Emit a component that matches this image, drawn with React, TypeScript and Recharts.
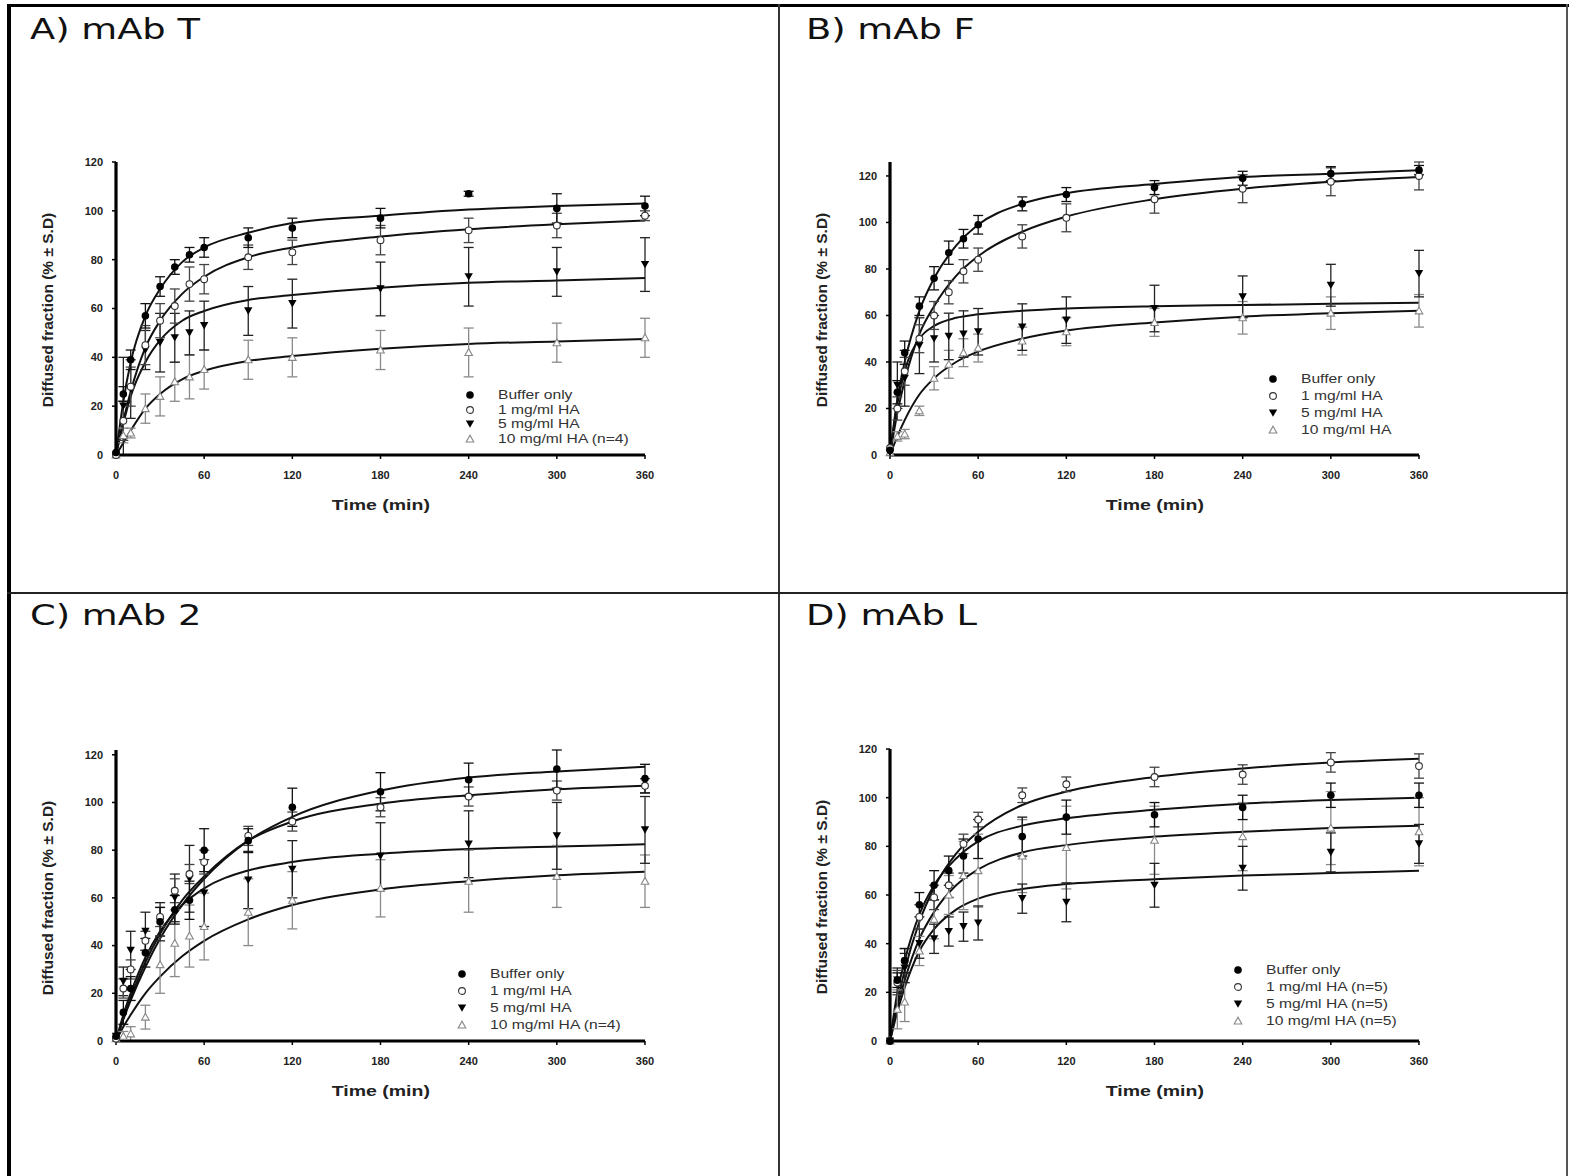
import React from 'react';
import { ComposedChart, Line, Scatter, XAxis, YAxis, ErrorBar } from 'recharts';

// Sampling times (min) of the measured points and of the fitted curves
const TIMES = [0, 5, 10, 20, 30, 40, 50, 60, 90, 120, 180, 240, 300, 360];
const FIT_TIMES = [0, 5, 10, 20, 30, 45, 60, 90, 120, 180, 240, 300, 360];
const X_TICKS = [0, 60, 120, 180, 240, 300, 360];
const Y_TICKS = [0, 20, 40, 60, 80, 100, 120];

// ---------- Panel A: mAb T ----------
const A_BUF = [1, 25, 39, 57, 69, 77, 82, 85, 89, 93, 97, 107, 101, 102];
const A_BUF_SD = [0, 3, 4, 5, 4, 3, 3, 4, 4, 4, 4, 1, 6, 4];
const A_HA1 = [0, 14, 28, 45, 55, 61, 70, 72, 81, 83, 88, 92, 94, 98];
const A_HA1_SD = [0, 8, 8, 8, 7, 7, 7, 6, 5, 5, 6, 5, 5, 2];
const A_HA5 = [0, 20, 27, 43, 46, 48, 50, 53, 59, 62, 68, 73, 75, 78];
const A_HA5_SD = [0, 20, 12, 8, 12, 10, 9, 10, 10, 10, 11, 12, 10, 11];
const A_HA10 = [0, 8, 9, 19, 24, 30, 32, 35, 39, 40, 43, 42, 46, 48];
const A_HA10_SD = [0, 3, 2, 6, 8, 8, 9, 8, 8, 8, 8, 10, 8, 8];
const A_BUF_FIT = [0, 22, 38, 57, 68, 79, 85, 91, 95, 98, 100.5, 102, 103];
const A_HA1_FIT = [0, 14, 26, 44, 55, 66, 73, 81, 85, 89.5, 92.5, 94.5, 96];
const A_HA5_FIT = [0, 13, 24, 38, 47, 55, 59, 63.5, 65.5, 68.5, 70.5, 71.5, 72.5];
const A_HA10_FIT = [0, 5, 10, 19, 25, 31, 34.5, 38.5, 40.5, 43.5, 45.5, 46.5, 47.5];
const A_LEGEND = ['Buffer only', '1 mg/ml HA', '5 mg/ml HA', '10 mg/ml HA (n=4)'];

// ---------- Panel B: mAb F ----------
const B_BUF = [2, 27, 44, 64, 76, 87, 93, 99, 108, 112, 115, 119, 121, 122.5];
const B_BUF_SD = [0, 5, 5, 4, 5, 5, 4, 4, 3, 3, 3, 3, 3, 2];
const B_HA1 = [3, 20, 36, 50, 60, 70, 79, 84, 94, 102, 110, 114.5, 117.5, 120];
const B_HA1_SD = [0, 5, 6, 6, 6, 5, 5, 5, 5, 6, 6, 6, 6, 6];
const B_HA5 = [1, 30, 33, 47, 50, 51, 52, 53, 55, 58, 63, 68, 73, 78];
const B_HA5_SD = [0, 10, 12, 12, 10, 10, 10, 10, 10, 10, 10, 9, 9, 10];
const B_HA10 = [1, 8, 9, 19, 33, 39, 44, 46, 49, 53, 57, 59, 61, 62];
const B_HA10_SD = [0, 2, 2, 2, 5, 6, 6, 6, 6, 6, 6, 7, 7, 7];
const B_BUF_FIT = [0, 24, 40, 62, 76, 90, 99, 108, 112.5, 116.5, 119.5, 121, 122.5];
const B_HA1_FIT = [0, 18, 32, 52, 64, 77, 85.5, 96, 102.5, 110, 114.5, 117.5, 119.5];
const B_HA5_FIT = [0, 22, 36, 50, 55.5, 59, 60.5, 62, 63, 64, 64.5, 65, 65.5];
const B_HA10_FIT = [0, 8, 15, 26, 33, 40, 44.5, 50, 53.5, 57, 59.5, 61, 62];
const B_LEGEND = ['Buffer only', '1 mg/ml HA', '5 mg/ml HA', '10 mg/ml HA'];

// ---------- Panel C: mAb 2 ----------
const C_BUF = [2, 12, 22, 37, 50, 55, 59, 80, 84, 98, 104.5, 109.5, 114, 110];
const C_BUF_SD = [0, 5, 5, 6, 6, 6, 8, 9, 5, 8, 8, 7, 8, 6];
const C_HA1 = [1, 22, 30, 42, 52, 63, 70, 75, 86, 92, 98, 102.5, 105, 107];
const C_HA1_SD = [0, 4, 4, 4, 4, 5, 4, 5, 4, 4, 4, 4, 4, 3];
const C_HA5 = [2, 25, 38, 46, 50, 60, 68, 62, 67.5, 72, 77.5, 82.5, 86, 88.5];
const C_HA5_SD = [0, 6, 8, 8, 8, 10, 14, 14, 12, 12, 14, 14, 14, 14];
const C_HA10 = [1, 2, 3, 10, 32, 41, 44, 48, 54, 59, 64, 67, 69, 67];
const C_HA10_SD = [0, 2, 3, 5, 12, 14, 13, 14, 14, 12, 12, 13, 13, 11];
const C_BUF_FIT = [0, 9, 17, 31, 43, 57, 68, 84, 94, 105, 110.5, 113, 115];
const C_HA1_FIT = [0, 9.5, 18, 33, 45, 59, 69, 84, 92, 99.5, 103, 105.5, 107];
const C_HA5_FIT = [0, 11, 20, 35, 46, 57, 64, 71.5, 75, 78.5, 80.5, 81.5, 82.5];
const C_HA10_FIT = [0, 6, 11, 20, 27, 35.5, 42, 51, 57, 63.5, 67, 69.5, 71];
const C_LEGEND = ['Buffer only', '1 mg/ml HA', '5 mg/ml HA', '10 mg/ml HA (n=4)'];

// ---------- Panel D: mAb L ----------
const D_BUF = [0, 25, 33, 56, 64, 70, 76, 83, 84, 92, 93, 96, 101, 101];
const D_BUF_SD = [0, 3, 5, 5, 6, 6, 7, 8, 8, 7, 5, 5, 5, 5];
const D_HA1 = [0, 24, 33, 51, 59, 64, 81, 91, 101, 105.5, 108.5, 109.5, 114.5, 113];
const D_HA1_SD = [0, 5, 5, 5, 5, 5, 4, 3, 3, 3, 4, 4, 4, 5];
const D_HA5 = [0, 25, 30, 40, 42, 45, 47, 48.5, 58.5, 57, 64, 71, 77.5, 81];
const D_HA5_SD = [0, 5, 6, 6, 6, 6, 6, 7, 6, 8, 9, 9, 8, 8];
const D_HA10 = [0, 13, 16, 37, 50, 60, 68, 70, 76, 79.5, 82.5, 84, 87.5, 86];
const D_HA10_SD = [0, 8, 8, 6, 8, 8, 14, 15, 15, 17, 14, 14, 15, 14];
const D_BUF_FIT = [0, 20, 33, 52, 64, 75, 82, 88.5, 91.5, 95, 97.5, 99, 100];
const D_HA1_FIT = [0, 16, 29, 49, 63, 77, 86, 97, 102.5, 108.5, 112, 114.5, 116];
const D_HA5_FIT = [0, 12, 22, 37, 46, 54, 58.5, 62.5, 64.5, 66.5, 68, 69, 70];
const D_HA10_FIT = [0, 14, 25, 42, 53, 64, 70.5, 77.5, 80.5, 84, 86, 87.5, 88.5];
const D_LEGEND = ['Buffer only', '1 mg/ml HA (n=5)', '5 mg/ml HA (n=5)', '10 mg/ml HA (n=5)'];

type Kind = 'buf' | 'ha1' | 'ha5' | 'ha10';
const KINDS: Kind[] = ['buf', 'ha1', 'ha5', 'ha10'];
const BAR_COLORS: Record<Kind, string> = { buf: '#111', ha1: '#444', ha5: '#222', ha10: '#8a8a8a' };

const pts = (v: number[], sd: number[]) => TIMES.map((t, i) => ({ t, y: v[i], sd: sd[i] }));
const fit = (v: number[]) => FIT_TIMES.map((t, i) => ({ t, y: v[i] }));

function MarkerShape(kind: Kind, cx: number, cy: number) {
  if (cx == null || cy == null || isNaN(cx) || isNaN(cy)) return <g />;
  switch (kind) {
    case 'buf':
      return <circle cx={cx} cy={cy} r={3.8} fill="#000" />;
    case 'ha1':
      return <circle cx={cx} cy={cy} r={3.4} fill="#fff" stroke="#333" strokeWidth={1.1} />;
    case 'ha5':
      return <path d={`M${cx - 4.2},${cy - 3.6} L${cx + 4.2},${cy - 3.6} L${cx},${cy + 3.8} Z`} fill="#000" />;
    default:
      return (
        <path
          d={`M${cx - 3.8},${cy + 3} L${cx + 3.8},${cy + 3} L${cx},${cy - 3.8} Z`}
          fill="#fff"
          stroke="#888"
          strokeWidth={1.1}
        />
      );
  }
}

interface PanelDef {
  title: string;
  titleX: number;
  titleY: number;
  plotLeft: number;
  plotTop: number;
  plotH: number;
  yMax: number;
  series: { kind: Kind; pts: { t: number; y: number; sd: number }[]; fit: { t: number; y: number }[] }[];
  legend: string[];
  legX: number;
  legY: number;
  legStep: number;
}

const mk = (vals: number[][], sds: number[][], fits: number[][]) =>
  KINDS.map((k, i) => ({ kind: k, pts: pts(vals[i], sds[i]), fit: fit(fits[i]) }));

const PANELS: PanelDef[] = [
  {
    title: 'A) mAb T', titleX: 30, titleY: 12, plotLeft: 116, plotTop: 162, plotH: 293, yMax: 120,
    series: mk([A_BUF, A_HA1, A_HA5, A_HA10], [A_BUF_SD, A_HA1_SD, A_HA5_SD, A_HA10_SD], [A_BUF_FIT, A_HA1_FIT, A_HA5_FIT, A_HA10_FIT]),
    legend: A_LEGEND, legX: 470, legY: 395, legStep: 14.7,
  },
  {
    title: 'B) mAb F', titleX: 806, titleY: 12, plotLeft: 890, plotTop: 162, plotH: 293, yMax: 125,
    series: mk([B_BUF, B_HA1, B_HA5, B_HA10], [B_BUF_SD, B_HA1_SD, B_HA5_SD, B_HA10_SD], [B_BUF_FIT, B_HA1_FIT, B_HA5_FIT, B_HA10_FIT]),
    legend: B_LEGEND, legX: 1273, legY: 379, legStep: 17,
  },
  {
    title: 'C) mAb 2', titleX: 30, titleY: 598, plotLeft: 116, plotTop: 750, plotH: 291, yMax: 120,
    series: mk([C_BUF, C_HA1, C_HA5, C_HA10], [C_BUF_SD, C_HA1_SD, C_HA5_SD, C_HA10_SD], [C_BUF_FIT, C_HA1_FIT, C_HA5_FIT, C_HA10_FIT]),
    legend: C_LEGEND, legX: 462, legY: 974, legStep: 17,
  },
  {
    title: 'D) mAb L', titleX: 806, titleY: 598, plotLeft: 890, plotTop: 749, plotH: 292, yMax: 120,
    series: mk([D_BUF, D_HA1, D_HA5, D_HA10], [D_BUF_SD, D_HA1_SD, D_HA5_SD, D_HA10_SD], [D_BUF_FIT, D_HA1_FIT, D_HA5_FIT, D_HA10_FIT]),
    legend: D_LEGEND, legX: 1238, legY: 970, legStep: 17,
  },
];

const PLOT_W = 529;
const YAW = 70;
const MT = 6;
const MR = 20;
const XAH = 30;
const tickStyle = { fontSize: 11, fill: '#222', fontFamily: 'Arial, "Liberation Sans", sans-serif', fontWeight: 700 };

function Panel({ p }: { p: PanelDef }) {
  const w = YAW + PLOT_W + MR;
  const h = MT + p.plotH + XAH;
  return (
    <>
      <div
        style={{
          position: 'absolute', left: p.titleX, top: p.titleY, fontFamily: '"DejaVu Sans", sans-serif',
          fontSize: 29, color: '#111', whiteSpace: 'nowrap', transform: 'scaleX(1.27)', transformOrigin: 'left top',
        }}
      >
        {p.title}
      </div>
      <div style={{ position: 'absolute', left: p.plotLeft - YAW, top: p.plotTop - MT }}>
        <ComposedChart width={w} height={h} margin={{ top: MT, right: MR, bottom: 0, left: 0 }}>
          <XAxis
            type="number" dataKey="t" domain={[0, 360]} ticks={X_TICKS} height={XAH}
            axisLine={{ stroke: '#000', strokeWidth: 3.2 }} tickLine={{ stroke: '#000', strokeWidth: 1.5 }}
            tickSize={4} tickMargin={12} tick={tickStyle} allowDuplicatedCategory={false}
          />
          <YAxis
            type="number" dataKey="y" domain={[0, p.yMax]} ticks={Y_TICKS} width={YAW}
            axisLine={{ stroke: '#000', strokeWidth: 3.2 }} tickLine={{ stroke: '#000', strokeWidth: 1.5 }}
            tickSize={4} tickMargin={9} tick={tickStyle}
          />
          {p.series.map((s) => (
            <Line
              key={'fit-' + s.kind} data={s.fit} dataKey="y" type="monotone" stroke="#111"
              strokeWidth={2} dot={false} activeDot={false} isAnimationActive={false} legendType="none"
            />
          ))}
          {p.series.slice().reverse().map((s) => (
            <Scatter
              key={'pt-' + s.kind} data={s.pts} dataKey="y" isAnimationActive={false}
              shape={(props: any) => MarkerShape(s.kind, props.cx, props.cy)}
            >
              <ErrorBar dataKey="sd" direction="y" width={5} stroke={BAR_COLORS[s.kind]} strokeWidth={1.3} />
            </Scatter>
          ))}
        </ComposedChart>
      </div>
      <div
        style={{
          position: 'absolute', left: p.plotLeft + PLOT_W / 2 - 100, width: 200, textAlign: 'center',
          top: p.plotTop + p.plotH + 41, fontFamily: 'Arial, "Liberation Sans", sans-serif', fontWeight: 700,
          fontSize: 15, color: '#222',
        }}
      >
        <span style={{ display: 'inline-block', transform: 'scaleX(1.3)' }}>Time (min)</span>
      </div>
      <div
        style={{
          position: 'absolute', left: p.plotLeft - 68 - 150, width: 300, top: p.plotTop + 148 - 10, height: 20,
          textAlign: 'center', fontFamily: 'Arial, "Liberation Sans", sans-serif', fontWeight: 700, fontSize: 15.5,
          color: '#222', transform: 'rotate(-90deg)', whiteSpace: 'nowrap', lineHeight: '20px',
        }}
      >
        Diffused fraction (% ± S.D)
      </div>
      {p.legend.map((label, i) => (
        <div key={label} style={{ position: 'absolute', left: p.legX - 6, top: p.legY + i * p.legStep - 8, height: 16, whiteSpace: 'nowrap' }}>
          <svg width={12} height={16} style={{ position: 'absolute', left: 0, top: 0 }}>
            {MarkerShape(KINDS[i], 6, 8)}
          </svg>
          <span
            style={{
              position: 'absolute', left: 34, top: 0, lineHeight: '16px', fontFamily: 'Arial, "Liberation Sans", sans-serif',
              fontSize: 12.5, color: '#333', display: 'inline-block', transform: 'scaleX(1.25)', transformOrigin: 'left center',
            }}
          >
            {label}
          </span>
        </div>
      ))}
    </>
  );
}

export default function App() {
  return (
    <div style={{ position: 'absolute', left: 0, top: 0, width: 1571, height: 1176, background: '#fff', overflow: 'hidden' }}>
      {/* frame */}
      <div style={{ position: 'absolute', left: 7, top: 4, width: 4, height: 1172, background: '#000' }} />
      <div style={{ position: 'absolute', left: 7, top: 4, width: 1562, height: 3, background: '#000' }} />
      <div style={{ position: 'absolute', left: 1566, top: 4, width: 2, height: 1172, background: '#555' }} />
      <div style={{ position: 'absolute', left: 778, top: 4, width: 2, height: 1172, background: '#333' }} />
      <div style={{ position: 'absolute', left: 7, top: 592, width: 1561, height: 2, background: '#222' }} />
      {PANELS.map((p) => (
        <Panel key={p.title} p={p} />
      ))}
    </div>
  );
}
